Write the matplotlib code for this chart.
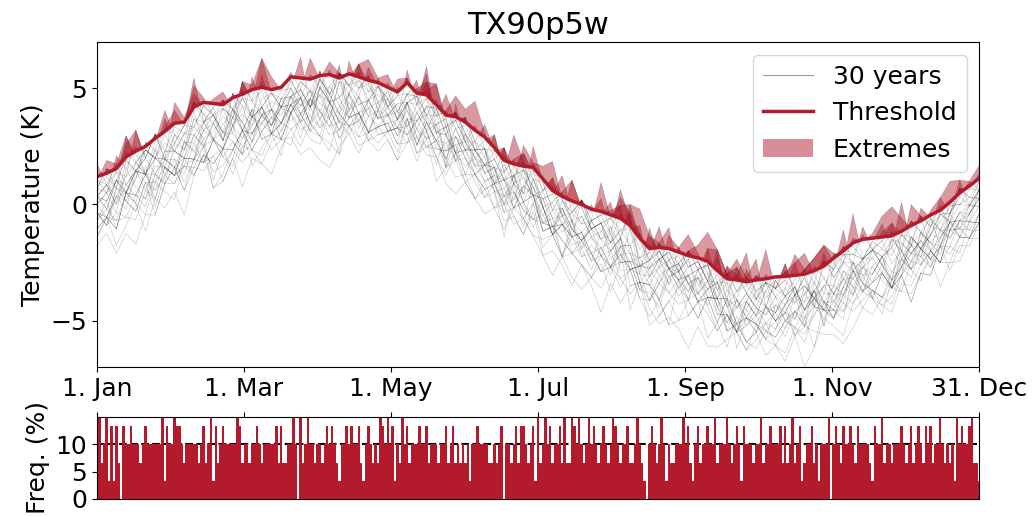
import numpy as np
import matplotlib
matplotlib.use("Agg")
import matplotlib.pyplot as plt
from matplotlib.lines import Line2D
from matplotlib.patches import Patch

RED = "#b31b2c"

# day of year grid (every 4th day) for the temperature panel
day = np.arange(0, 365, 4)

# 90th percentile threshold (K)
threshold = [
    1.20, 1.35, 1.55, 2.05, 2.30, 2.50, 2.85, 3.15, 3.50, 3.55,
    4.20, 4.40, 4.35, 4.30, 4.60, 4.75, 4.95, 5.05, 4.95, 5.05,
    5.50, 5.45, 5.40, 5.55, 5.60, 5.45, 5.63, 5.50, 5.35, 5.25,
    5.05, 4.85, 5.25, 4.80, 4.72, 4.30, 3.85, 3.78, 3.55, 3.20,
    2.90, 2.45, 1.90, 1.75, 1.65, 1.60, 1.10, 0.60, 0.35, 0.15,
    0.00, -0.20, -0.30, -0.45, -0.60, -0.90, -1.45, -1.90, -1.85, -1.90,
    -2.05, -2.20, -2.30, -2.45, -2.85, -3.20, -3.25, -3.33, -3.25, -3.20,
    -3.12, -3.10, -3.05, -3.00, -2.85, -2.65, -2.30, -2.00, -1.65, -1.50,
    -1.45, -1.40, -1.35, -1.15, -0.90, -0.70, -0.45, -0.25, 0.10, 0.50,
    0.80, 1.12,
]

# each year as offsets from the threshold: 'e' sits just above the line,
# every letter before/after is 0.35 K warmer/colder
STEP = 0.35
E_LEVEL = 0.2
years = [
    "dgfhcgeigf" "bhfjegidhf" "gcifhdjgeh" "fidgbhfjeg" "hdgeicfhgj" "egbfhdigec" "hfjdgeihfb" "gdhfjegcih" "fdgbhejfgd" "hf",
    "kimjlhnkjm" "ljokimhlkn" "jmilkohjml" "kilnjmhkjl" "mkoiljnkmh" "ljkmipkjlo" "imkjlhnjkm" "limkojlnik" "mjlhkmjlik" "lj",
    "hjgkifhjgi" "fkhjgidhkg" "jhlgiekhjf" "igkhjfldhi" "gkjhmgikfh" "jgihkfjcgi" "hkgjiflhjg" "kigjhmfijh" "gikfhjgeih" "jg",
    "gehcfigdhf" "egjfhdgbfh" "ifgehjdgfi" "ehgfcigfhe" "gidhfjgehc" "fhgiefdhgj" "egfhcigehf" "jgdhfiegbh" "fgeihdfjge" "gf",
    "jlikmjolkn" "mkpnljomkl" "njlkimkjlh" "kjhlijgkih" "gjfhiegdhf" "hegfdihfcg" "egfhdgebhf" "gdhfiegfhd" "gifhjgikhj" "ih",
    "ihkgjlhikj" "lhjkigkjhl" "jgihkfjhli" "kjmhjlikgj" "hkigjlkimj" "kijlhmkjnl" "jhkiglhjkm" "ikljhmjkil" "jhkgijfhji" "kj",
    "mkonlpmonq" "nlpomqnopm" "lnkmojlnmk" "lnjmkoljmn" "kmjlnkomnp" "mornpmkonl" "nmkolnjmlo" "npmqolnpmk" "lnmkolmjnl" "mk",
    "fhdgeifcgh" "eghfjdgfih" "gjhfieghdf" "hegdihfjgh" "ifhgeigdfh" "egfdhcfgeh" "gihfjghdgi" "fhgejhifge" "gfdhcegfhe" "gh",
    "higjkimjlk" "ikhjgilhkj" "ihkjgihlhj" "gihfjhkgij" "kilhjmikgi" "jhkgihjlik" "lkmjihkjli" "jlhiegjhki" "jhlikgjihk" "ih",
    "hjgikmjlhi" "giheikjhfh" "fhegikjmlk" "jlhigfhegi" "ijhkjgikil" "kmjliheigf" "hfigkjlnmk" "nljkhjmkil" "kiljgikhji" "hg",
    "jlhkmjlikh" "kmjlnkihjg" "hjigkfhdgf" "hfegdcfegh" "fdgbeihfcg" "efdhbegdfh" "ijhkgiljhi" "kihlgjkilh" "mjlkgiljhk" "ji",
    "ghfjiegihf" "hfgiejhlkj" "lkmnjlikhj" "ihkgfihjlk" "ijgkhfigeh" "ilkjmkihjg" "hegfidgeci" "fegjhkmjli" "hjfgihedgf" "eg",
    "lkmjlnkmoj" "nlmkolmnkl" "jlkmihkjlm" "kjlihkjilh" "gjhikljkmi" "jkmlnkjilh" "jhkikjlhji" "kjmlkijlhk" "lmnkolmjki" "jk",
    "nmpoqnolmk" "nlmkljmkil" "jhkgihfgei" "fhgedgcfeh" "gfdhcedbfg" "ehgjhkigfh" "hikjilkhjl" "kmjlihkmlj" "mokmnlkomn" "lm",
    "hgjfhikjlh" "jhgijlkihj" "hgifhegihf" "gihkjlmjki" "jhkgfhijgi" "jhgkijlkmi" "hjgifhdgij" "ijhgikjihk" "gfihkjlihg" "hi",
    "ikhjgilkmj" "lknmljmkij" "hkjlikhjil" "kmjlijlkmn" "lmkjhikjml" "mnlokjlihj" "giklmjlkij" "hkjlmnoqpn" "omlkjiklmk" "lj",
    "fdecgfhedf" "cegfhdebdf" "egcfhfgeih" "gdefhgecdb" "egdfgihfhg" "ehgfcdegfh" "gedbcegfhe" "gfcegdhgef" "ecbdfegdcd" "ed",
    "higjhkijlh" "kigjhfiehj" "ikhjlkmjli" "kjligfhjik" "ighjfghijh" "kgijhikljh" "igfhjkigeh" "gfhjiklhji" "kjlmjkhigj" "hg",
    "jlkmnkmjli" "hjigifgihk" "jigkhjlkmn" "lnmjkilhjk" "mjlkhijgik" "jlhigfhegh" "ihjkmjliki" "jhkgijlmkn" "lmjkihjlkm" "jk",
    "gfhegihfij" "ghfegjhikj" "ihkgehgdfh" "ighfecgfhi" "kihgjiljhi" "gihfgeifhd" "ecegihkjli" "kjhgihgefh" "gedfgihfge" "fg",
    "hgjihfhgij" "ikjlkmihjg" "higjlikjhg" "hjikmlnomk" "ljkmlnopmo" "pnolmnkmon" "oqnpomlnkm" "nolmkjmlnm" "lmkjihkjlk" "lk",
    "jkilhgjikl" "jmlkihjgfh" "giheijhfge" "higfhegjih" "ighfdgfhec" "fhgikjhigf" "hegfhdegif" "higkjlkjhi" "ghfhegijhi" "ih",
    "mkljhijlkn" "lmjklnmolk" "ikhjkmlkij" "hfijlkjihg" "jhiklnmkij" "ikmljkihfh" "gihjikhjkl" "mklnjkighj" "ikljhgfhij" "lk",
    "fgeihjkhig" "ehjikmlijh" "hgifdegfhj" "ikjlhigehj" "ihjgfhikij" "lkmjhkijhg" "ihgfhecegf" "hgiedcfegh" "gikjlihgfg" "gh",
    "ihgfhgeice" "dfgihjkigh" "ijhkmljihf" "ghjikhjgih" "jkmlnjkhij" "ikjighkjli" "kijhgihkjg" "fhgjikmkjl" "ihgjhkjlih" "ig",
    "lkmjhigkij" "lijhgjikml" "monpqnmolk" "jlmkljihjk" "ljkhgiljkl" "jhiglkmnlo" "nkmjlhigik" "ljkhgjikml" "kjligihfhi" "jk",
    "hgijkljhig" "hfedgeihfg" "fhgijlkhji" "ikhjgihfeg" "dfegihkjih" "giklkjigih" "jkhigfhigf" "gedcfehgij" "jhgfhikjih" "hg",
    "jkihgfhijk" "lmjkhiljhi" "hfghikljlk" "jihgijkhig" "ghjiklhjig" "hgfhjikhgf" "gefhijkmlk" "jhihjkljih" "hghfegihgf" "hi",
    "kjlmkihjlk" "mnlomjkijh" "kjlmnolmjk" "ijkmljkmln" "omnkjiljkl" "mnkljkmljk" "ikjhjlkmnl" "mkjihgjikl" "mnolmkjlij" "kl",
    "gefdcgehfg" "ihgegfijkh" "jhihgefdce" "dfghfgegfh" "ihgedfgihj" "igfedcbdeg" "fhgdcedfef" "ghfedcefgh" "ghjikighfg" "fe",
]

# number of the 30 years above the threshold, per day (0..364)
exceed_counts = (
    "1523514142" "0433433323" "4333333514" "3354432333" "3323423514" "2343333354" "2332334323" "333"
    "3424223353" "0523533233" "2343432133" "4343342134" "3232543534" "1325342333" "4334233323" "3423"
    "4232323133" "4333322323" "4033234244" "3234152353" "4233425225" "4353235343" "2343235432" "334"
    "2235321034" "3235313223" "3353421342" "3343352333" "5323431433" "3233523343" "3342423523" "412"
    "3342313335" "0343243343" "2433332143" "3523323334" "3234234324" "3423353232" "3153433452" "21"
)

tick_labels = ["1. Jan", "1. Mar", "1. May", "1. Jul", "1. Sep", "1. Nov", "31. Dec"]

plt.rcParams["font.size"] = 18

thr = np.array(threshold)
fig = plt.figure(figsize=(10.32, 5.16), dpi=100)
ax1 = fig.add_axes([0.094, 0.2888, 0.8547, 0.6298])
ax2 = fig.add_axes([0.094, 0.033, 0.8547, 0.159])

for s in years:
    yr = thr + E_LEVEL + np.array([(ord("e") - ord(c)) * STEP for c in s])
    ax1.plot(day, yr, color="k", lw=0.4, alpha=0.25)
    ax1.fill_between(day, thr, yr, where=yr > thr, interpolate=True,
                     color=RED, alpha=0.45, lw=0)
ax1.plot(day, thr, color=RED, lw=2.5)

ax1.set_xlim(0, 364)
ax1.set_ylim(-7, 7)
ax1.set_yticks([-5, 0, 5])
ax1.set_xticks(np.linspace(0, 364, 7))
ax1.set_xticklabels(tick_labels)
ax1.set_ylabel("Temperature (K)")
ax1.set_title("TX90p5w", fontsize=22)

handles = [Line2D([], [], color="k", alpha=0.4, lw=0.8),
           Line2D([], [], color=RED, lw=2.5),
           Patch(color=RED, alpha=0.5, lw=0)]
ax1.legend(handles, ["30 years", "Threshold", "Extremes"], loc="upper right")

freq = np.array([int(c) for c in exceed_counts]) / 30 * 100
fday = np.arange(len(freq))
ax2.axhline(10, color="k", ls="--", lw=1.5, zorder=1)
ax2.bar(fday, freq, width=1.0, color=RED, lw=0, zorder=2)
ax2.set_xlim(0, 364)
ax2.set_ylim(0, 15)
ax2.set_yticks([0, 5, 10])
ax2.set_xticks(np.linspace(0, 364, 7))
ax2.xaxis.tick_top()
ax2.tick_params(axis="x", labeltop=False)
ax2.set_ylabel("Freq. (%)")

fig.align_ylabels([ax1, ax2])
fig.savefig("out.png", dpi=100)
